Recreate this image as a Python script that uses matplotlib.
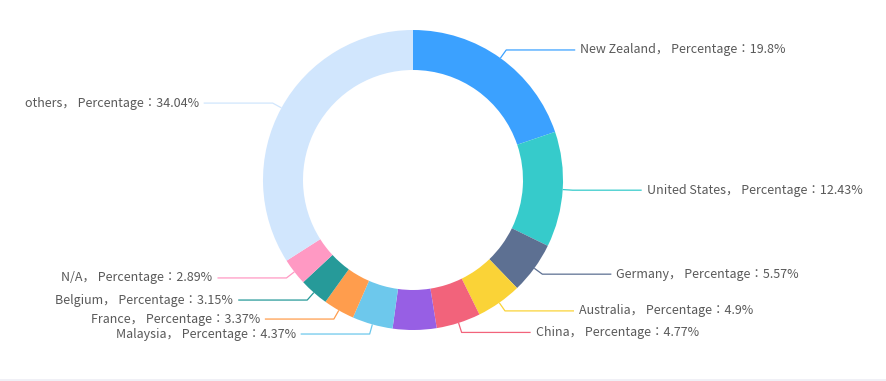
import numpy as np
import matplotlib
matplotlib.use("Agg")
import matplotlib.pyplot as plt

plt.rcParams['font.family'] = ['Noto Sans CJK JP', 'DejaVu Sans']

# slices clockwise from 12 o'clock; the purple slice has no visible label
countries = ['New Zealand', 'United States', 'Germany', 'Australia', 'China',
             '', 'Malaysia', 'France', 'Belgium', 'N/A', 'others']
percentages = [19.8, 12.43, 5.57, 4.9, 4.77, 4.71, 4.37, 3.37, 3.15, 2.89, 34.04]
colors = ['#3BA1FF', '#36CBCB', '#5D7092', '#FAD337', '#F2637B', '#975FE4',
          '#6DC8EC', '#FF9D4D', '#269A99', '#FF99C3', '#D1E6FD']

W, H = 887, 381
cx, cy = 413, 180
r_out, r_in = 150, 110

fig = plt.figure(figsize=(W / 100, H / 100), dpi=100)
ax = fig.add_axes([0, 0, 1, 1])

# y axis runs downward, so counterclock here is clockwise on screen
ax.pie(percentages, colors=colors, center=(cx, cy), radius=r_out,
       startangle=-90, counterclock=True,
       wedgeprops=dict(width=r_out - r_in, edgecolor='none'))

ax.set_xlim(0, W)
ax.set_ylim(H, 0)
ax.set_aspect('equal')
ax.axis('off')

# leader lines + labels
total = sum(percentages)
cum = 0.0
for name, pct, col in zip(countries, percentages, colors):
    mid = cum + pct / 2
    cum += pct
    if not name:
        continue
    ang = np.deg2rad(-90 + 360 * mid / total)
    x0, y0 = cx + r_out * np.cos(ang), cy + r_out * np.sin(ang)
    x1, y1 = cx + (r_out + 10) * np.cos(ang), cy + (r_out + 10) * np.sin(ang)
    side = 1 if np.cos(ang) >= 0 else -1
    x2 = x1 + side * 69
    ax.plot([x0, x1, x2], [y0, y1, y1], color=col, lw=0.9, solid_capstyle='butt')
    ax.text(x2 + side * 5, y1, f'{name}， Percentage：{pct}%',
            ha='left' if side > 0 else 'right', va='center',
            fontsize=9, color='#595959')

# faint strip along the bottom edge
ax.axhspan(379, 381, color='#F0F0F6', lw=0)

fig.savefig('out.png', dpi=100)
